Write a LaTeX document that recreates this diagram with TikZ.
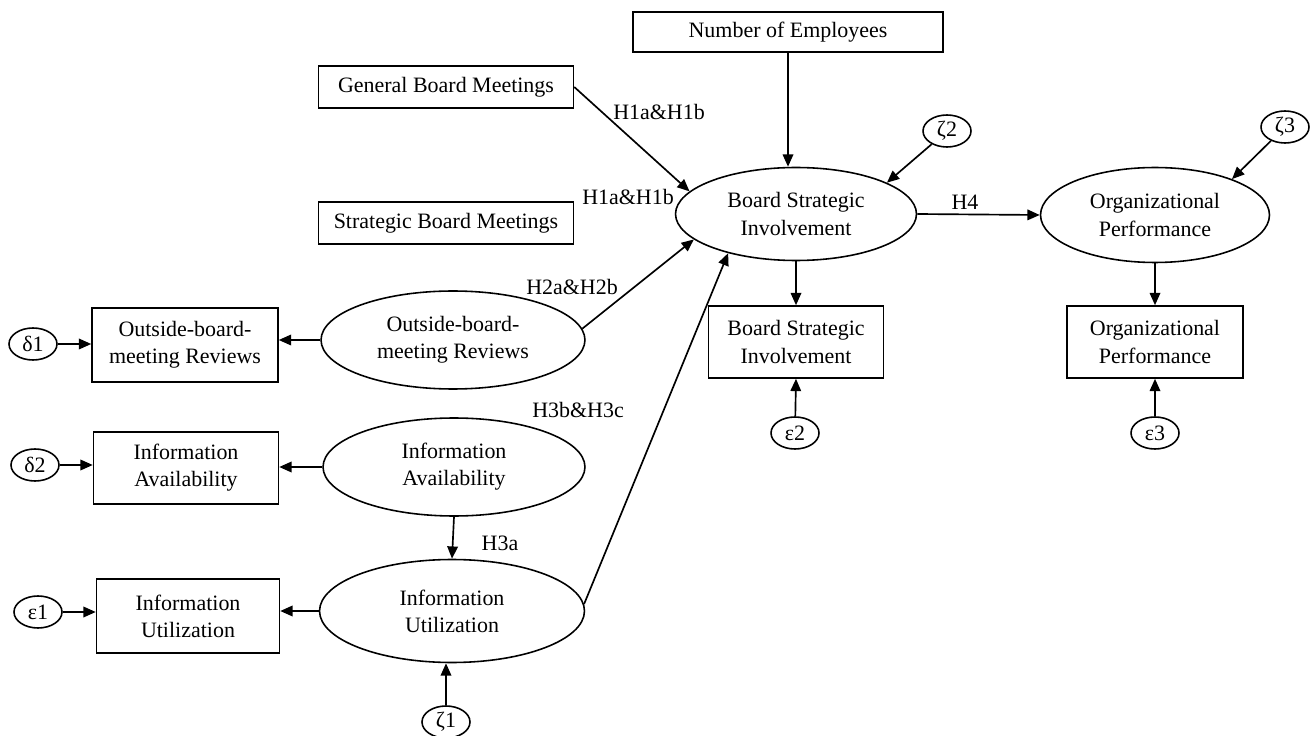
\documentclass[tikz,border=0pt]{standalone}
\usepackage{fontspec}
\setmainfont{Liberation Serif}
\usetikzlibrary{positioning,shapes.geometric,arrows.meta}
\tikzset{obs/.style={draw=black,line width=0.9pt,rectangle,align=center,inner sep=2pt}, lat/.style={draw=black,line width=0.9pt,ellipse,align=center,inner sep=0pt}, err/.style={draw=black,line width=0.9pt,ellipse,inner sep=0pt,minimum width=0.96cm,minimum height=0.64cm}, path/.style={draw=black,line width=0.95pt,-{Triangle[length=7pt,width=6pt]}}, hyp/.style={inner sep=1pt}}
\begin{document}
\begin{tikzpicture}[x=0.02cm,y=-0.02cm,font=\fontsize{12.5}{15.5}\selectfont]
\useasboundingbox (0,0) rectangle (1315,736);
% top row
\node[obs,minimum width=6.2cm,minimum height=0.8cm] (emp) at (788,32) {Number of Employees};
\node[obs,minimum width=5.1cm,minimum height=0.84cm] (gbm) at (446,87) {General Board Meetings};
\node[obs,minimum width=5.1cm,minimum height=0.84cm] (sbm) at (446,223) {Strategic Board Meetings};
% board strategic involvement
\node[lat,minimum width=4.82cm,minimum height=1.86cm] (bsi) at (796,214) {Board Strategic\\Involvement};
\node[err] (z2) at (947,131) {ζ2};
\node[obs,minimum width=3.5cm,minimum height=1.44cm] (bsibox) at (796,342) {Board Strategic\\Involvement};
\node[err] (e2) at (795,433) {ε2};
% organizational performance
\node[lat,minimum width=4.58cm,minimum height=1.9cm] (op) at (1155,215) {Organizational\\Performance};
\node[err] (z3) at (1285,127) {ζ3};
\node[obs,minimum width=3.52cm,minimum height=1.44cm] (opbox) at (1155,342) {Organizational\\Performance};
\node[err] (e3) at (1155,433) {ε3};
% left side
\node[obs,minimum width=3.72cm,minimum height=1.48cm] (obrbox) at (185,345) {Outside-board-\\meeting Reviews};
\node[lat,minimum width=5.28cm,minimum height=1.96cm] (obr) at (453,340) {Outside-board-\\meeting Reviews};
\node[err] (d1) at (33,344) {δ1};
\node[obs,minimum width=3.7cm,minimum height=1.44cm] (iabox) at (186,468) {Information\\Availability};
\node[lat,minimum width=5.24cm,minimum height=1.96cm] (ia) at (454,467) {Information\\Availability};
\node[err] (d2) at (35,465) {δ2};
\node[obs,minimum width=3.66cm,minimum height=1.48cm] (iubox) at (188,616) {Information\\Utilization};
\node[lat,minimum width=5.3cm,minimum height=2.06cm] (iu) at (452,611) {Information\\Utilization};
\node[err] (e1) at (38,612) {ε1};
\node[err] (z1) at (446,722) {ζ1};
% paths
\draw[path] (emp.south) -- (emp.south |- bsi.north);
\draw[path] (gbm.east) -- (bsi.168);
\draw[path] (z2) -- (bsi.19);
\draw[path] (bsi.east) -- (op.west);
\draw[path] (z3) -- (op.25);
\draw[path] (bsi.south) -- (bsibox.north);
\draw[path] (e2) -- (bsibox.south);
\draw[path] (op.south) -- (opbox.north);
\draw[path] (e3) -- (opbox.south);
\draw[path] (obr.west) -- (obr.west -| obrbox.east);
\draw[path] (d1) -- (d1 -| obrbox.west);
\draw[path] (obr.5) -- (bsi.194);
\draw[path] (ia.west) -- (ia.west -| iabox.east);
\draw[path] (d2) -- (d2 -| iabox.west);
\draw[path] (ia.south) -- (iu.north);
\draw[path] (iu.west) -- (iu.west -| iubox.east);
\draw[path] (e1) -- (e1 -| iubox.west);
\draw[path] (z1) -- (z1 |- iu.south);
\draw[path] (iu.3) -- (bsi.210);
% hypothesis labels
\node[hyp] (h1a) at (659,112) {H1a\&H1b};
\node[hyp] (h1b) at (628,197) {H1a\&H1b};
\node[hyp] (h4) at (965,202) {H4};
\node[hyp] (h2) at (572,287) {H2a\&H2b};
\node[hyp] (h3bc) at (578,410) {H3b\&H3c};
\node[hyp] (h3a) at (500,543) {H3a};
\end{tikzpicture}
\end{document}
